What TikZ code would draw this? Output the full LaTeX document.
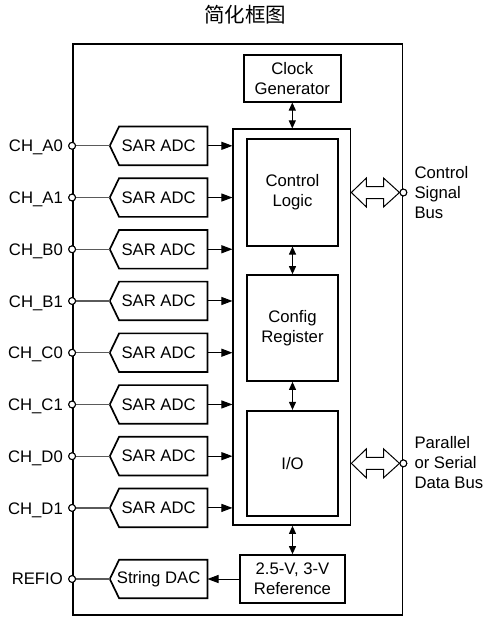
\documentclass[tikz,border=0pt]{standalone}
\usepackage{fontspec}
\setmainfont{Liberation Sans}
\newfontfamily\cjk{Noto Sans CJK SC}
\usetikzlibrary{arrows.meta,calc}
\definecolor{wiregray}{RGB}{90,90,90}
\tikzset{
  txt/.style={font=\fontsize{16.7}{20.3}\selectfont},
  box/.style={draw, line width=1.7pt, inner sep=0pt, align=center, txt},
  boxline/.style={line width=1.7pt, line join=miter},
  lbl/.style={inner sep=0pt, txt},
  pin/.style={circle, draw, fill=white, line width=1pt, minimum size=6.8pt, inner sep=0pt},
  wire/.style={line width=1.2pt, draw=wiregray},
  sig/.style={line width=1pt, -{Triangle[length=11pt,width=8pt]}},
  bid/.style={line width=1pt, {Triangle[length=8pt,width=7pt]}-{Triangle[length=8pt,width=7pt]}},
  bus/.style={line width=1pt, fill=white, line join=miter},
}
\begin{document}
\begin{tikzpicture}[x=1pt,y=-1pt]
\useasboundingbox (0,0) rectangle (491,625);
% title
\node[inner sep=0pt, font=\cjk\fontsize{20.5}{22}\selectfont] (title) at (245,15) {简化框图};
% outer frame
\node[box, line width=1.8pt, minimum width=329.5pt, minimum height=571pt] (outer) at (237.75,329.5) {};
% clock
\node[box, minimum width=96.7pt, minimum height=46.7pt] (clk) at (292.3,78.3) {Clock\\Generator};
% logic frame
\node[box, minimum width=117.2pt, minimum height=395.7pt] (logic) at (291.9,327.15) {};
\node[box, minimum width=91.6pt, minimum height=106.4pt] (ctrl) at (292.5,192.5) {Control\\Logic};
\node[box, minimum width=91.6pt, minimum height=106pt] (cfg) at (292.5,328) {Config\\Register};
\node[box, minimum width=91.6pt, minimum height=105.3pt] (io) at (292.5,463.35) {I/O};
% reference
\node[box, minimum width=105pt, minimum height=48pt] (ref) at (292.5,579) {2.5-V, 3-V\\Reference};
% vertical bidirectional arrows
\draw[bid] (clk.south) -- (clk.south |- logic.north);
\draw[bid] (ctrl.south) -- (cfg.north);
\draw[bid] (cfg.south) -- (io.north);
\draw[bid] (ref.north |- logic.south) -- (ref.north);
% ADC channels
\foreach \lab [count=\i from 0] in {CH\_A0,CH\_A1,CH\_B0,CH\_B1,CH\_C0,CH\_C1,CH\_D0,CH\_D1}{
  \pgfmathsetmacro{\yy}{145.8+51.73*\i}
  \pgfmathsetmacro{\yb}{\yy+6.1}
  \node[lbl, inner sep=0pt, minimum width=97.3pt, minimum height=38.3pt] (adc\i) at (158.65,\yy) {SAR ADC};
  \draw[boxline] (adc\i.west) -- ([xshift=9.3pt]adc\i.north west) -- (adc\i.north east)
     -- (adc\i.south east) -- ([xshift=9.3pt]adc\i.south west) -- cycle;
  \node[pin] (p\i) at (outer.west |- adc\i.west) {};
  \node[lbl, anchor=base east] (l\i) at (63,\yb) {\lab};
  \draw[wire] (p\i) -- (adc\i.west);
  \node[pin] at (p\i) {};
  \draw[sig] (adc\i.east) -- (adc\i.east -| logic.west);
}
% string DAC
\node[lbl, minimum width=97.3pt, minimum height=38pt] (dac) at (158.65,579) {String DAC};
\draw[boxline] (dac.west) -- ([xshift=9.3pt]dac.north west) -- (dac.north east)
   -- (dac.south east) -- ([xshift=9.3pt]dac.south west) -- cycle;
\node[pin] (pref) at (outer.west |- dac.west) {};
\node[lbl, anchor=east] (lref) at (63,579) {REFIO};
\draw[wire] (pref) -- (dac.west);
\node[pin] at (pref) {};
\draw[sig] (ref.west) -- (dac.east);
% buses
\foreach \nm/\src in {cb/ctrl, db/io}{
  \coordinate (\nm L) at (logic.east |- \src.center);
  \node[pin] (\nm P) at (outer.east |- \src.center) {};
  \coordinate (\nm R) at (\nm P.west);
  \draw[bus] (\nm L) -- ($(\nm L)+(15,-14.5)$) -- ($(\nm L)+(15,-6)$) -- ($(\nm R)+(-16,-6)$)
     -- ($(\nm R)+(-16,-14.5)$) -- (\nm R) -- ($(\nm R)+(-16,14.5)$) -- ($(\nm R)+(-16,6)$)
     -- ($(\nm L)+(15,6)$) -- ($(\nm L)+(15,14.5)$) -- cycle;
  \node[pin] at (\nm P) {};
}
\node[lbl, anchor=west, align=left] (cbl) at (414.3,192.7) {Control\\Signal\\Bus};
\node[lbl, anchor=west, align=left] (dbl) at (414.3,462.7) {Parallel\\or Serial\\Data Bus};
\end{tikzpicture}
\end{document}
